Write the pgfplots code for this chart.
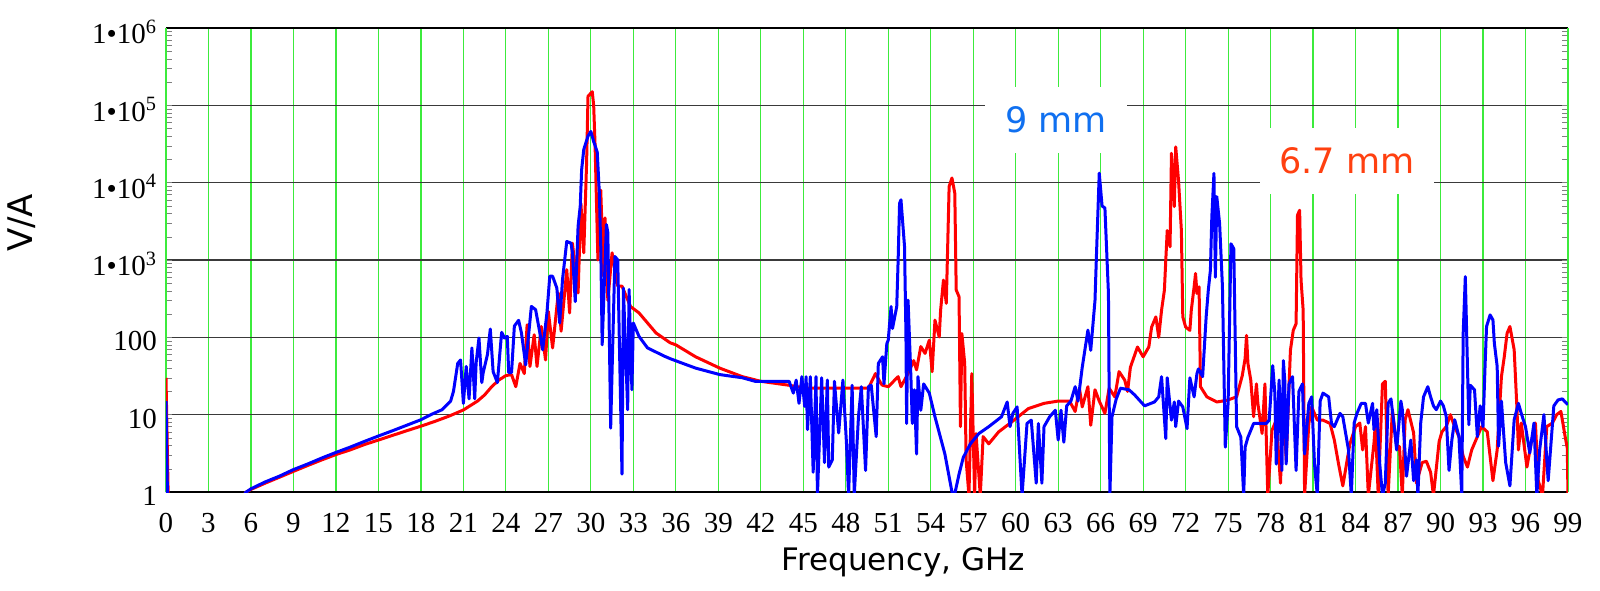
\documentclass[border=0pt]{standalone}
\usepackage{pgfplots}
\pgfplotsset{compat=1.18}
\usepackage{fontspec}
\setmainfont{Liberation Serif}
\newfontfamily\labelfont{DejaVu Sans}
\definecolor{GridGreen}{HTML}{3CEB3C}
\definecolor{GridDark}{HTML}{3A3A3A}
\definecolor{LineRed}{HTML}{FF0000}
\definecolor{LineBlue}{HTML}{0000FF}
\definecolor{NoteBlue}{HTML}{1070F0}
\definecolor{NoteRed}{HTML}{FF4010}
\begin{document}
\begin{tikzpicture}
\begin{axis}[
  scale only axis,
  width=701pt, height=232pt,
  xmin=0, xmax=99, ymin=1, ymax=1e6,
  ymode=log,
  xtick={0,3,...,99},
  ytick={1,10,100,1000,10000,100000,1000000},
  yticklabels={1,10,100,1\textbullet10\textsuperscript{3},1\textbullet10\textsuperscript{4},1\textbullet10\textsuperscript{5},1\textbullet10\textsuperscript{6}},
  major tick length=0pt,
  xmajorgrids, ymajorgrids,
  x grid style={GridGreen, line width=0.6pt},
  y grid style={GridDark, line width=0.6pt},
  separate axis lines,
  x axis line style={black, line width=0.7pt},
  y axis line style={GridGreen, line width=0.8pt},
  ticklabel style={font=\fontsize{14.5}{16}\selectfont},
  /pgf/number format/assume math mode=true,
  xticklabel style={yshift=-7pt},
  yticklabel style={xshift=-1pt, yshift=-2pt},
  xlabel={Frequency, GHz},
  ylabel={V/A},
  xlabel style={font=\labelfont\fontsize{15.5}{18}\selectfont, at={([yshift=-35pt]rel axis cs:0.526,0)}, anchor=center},
  ylabel style={font=\labelfont\fontsize{17}{19}\selectfont, at={([xshift=-72pt]rel axis cs:0,0.58)}, anchor=center},
]
% 6.7 mm
\addplot[LineRed, line width=1.5pt, line join=round] coordinates {
(0,30) (0.15,1) (0.3,0.5) (5.3,0.5) (5.6,0.98) (6,1.08) (7,1.3) (8,1.55) (9,1.85) (10,2.2) (11,2.6) (12,3.05)
(13,3.5) (14,4.1) (15,4.7) (16,5.4) (17,6.2) (18,7.1) (19,8.2) (20,9.6) (21,11.5) (22,15) (22.5,18) (23,23)
(23.5,28) (24,32) (24.4,33) (24.7,23) (25.0,46) (25.3,34) (25.5,145) (25.7,42) (26.0,108) (26.2,42) (26.5,138)
(26.8,51) (27.0,216) (27.3,73) (27.7,375) (27.9,120) (28.3,750) (28.5,207) (28.7,1650) (29.1,375) (29.3,5400)
(29.5,1240) (29.7,18000) (29.8,131000) (30.1,150000) (30.2,100000) (30.3,30000) (30.5,1000) (30.7,8000)
(30.9,617) (31.0,3500) (31.2,300) (31.5,1240) (31.9,460) (32.2,460) (32.8,250) (33.4,207) (34.6,114) (35.6,85)
(36,80) (37.4,56) (39.1,40) (40.7,31) (42,27) (44,24) (45.2,22) (48,22) (49.6,22) (50.1,34) (50.5,25)
(50.6,24) (51.0,23) (51.7,31) (51.9,23) (52.4,34) (52.8,50) (53.0,38) (53.3,76) (53.6,62) (53.9,92) (54.1,36)
(54.3,167) (54.6,101) (54.7,226) (54.9,550) (55.1,275) (55.3,8900) (55.5,11500) (55.7,7300) (55.8,410)
(56.0,335) (56.1,7) (56.2,112) (56.4,46) (56.5,2.6) (56.7,0.9) (56.9,34) (57.1,0.9) (57.2,5.7) (57.5,0.9)
(57.7,5.2) (58.1,4.2) (58.8,6) (59.7,8) (60.9,12) (62.0,14) (63.0,15) (63.8,15) (64.2,11) (64.5,22) (64.7,12.6)
(65.1,23) (65.3,7.3) (65.6,21) (65.9,15) (66.3,10.4) (66.6,22) (67.0,17) (67.3,36) (67.7,28) (67.9,20) (68.1,41)
(68.6,75) (69.0,56) (69.4,75) (69.6,136) (69.9,184) (70.1,100) (70.3,224) (70.5,405) (70.6,1000) (70.7,2400)
(70.9,1480) (71.0,24000) (71.2,4900) (71.3,29000) (71.5,10600) (71.7,2400) (71.8,184) (72.0,136) (72.3,123)
(72.4,224) (72.6,450) (72.7,670) (72.8,370) (72.95,450) (73.05,23) (73.5,17) (74.2,14.6) (74.9,15.3) (75.6,17)
(76.0,32) (76.2,53) (76.3,106) (76.4,46) (76.6,28) (76.8,9.4) (77.0,25) (77.1,14) (77.4,5.7) (77.6,25) (77.8,0.9)
(78.1,6.3) (78.4,8.5) (78.7,1.3) (78.9,17) (79.1,2.6) (79.4,68) (79.6,123) (79.8,150) (79.9,3800) (80.05,4400)
(80.15,550) (80.3,224) (80.4,0.9) (80.7,7.7) (80.9,12.6) (81.3,8.5) (81.7,8.5) (82.2,7.7) (82.5,4.7) (82.8,2.3)
(83.1,1.2) (83.6,4.2) (84.0,7) (84.3,7.8) (84.5,3.5) (84.7,7) (84.9,0.9) (85.3,4.3) (85.4,7.8) (85.6,0.9)
(85.9,25) (86.1,27) (86.3,0.9) (86.6,11.6) (86.9,3.9) (87.1,3.9) (87.3,0.9) (87.5,8.6) (87.7,11.6) (88.1,5.8)
(88.3,1.3) (88.7,2.4) (89.0,2.5) (89.3,1.8) (89.5,0.9) (89.9,4.5) (90.1,6) (90.4,7) (90.7,10) (90.9,7.8)
(91.3,5.2) (91.6,2.9) (91.9,2.1) (92.2,3.5) (92.6,5.2) (92.9,7) (93.3,6) (93.5,2.9) (93.7,1.4) (94.0,3.5)
(94.3,31) (94.5,56) (94.7,113) (94.9,138) (95.2,69) (95.4,11.6) (95.5,3.5) (95.7,7.8) (96.1,2.1) (96.4,4.3)
(96.7,7.8) (96.9,1.4) (97.2,0.9) (97.5,7) (97.9,7.8) (98.2,10) (98.5,11) (98.8,5.2) (98.95,3.7) (99,0.9)
};
% 9 mm
\addplot[LineBlue, line width=1.5pt, line join=round] coordinates {
(0,15) (0.1,1) (0.3,0.5) (5.3,0.5) (5.6,0.98) (6,1.1) (7,1.35) (8,1.6) (9,1.95) (10,2.3) (11,2.75) (12,3.25)
(13,3.8) (14,4.5) (15,5.3) (16,6.2) (17,7.3) (18,8.6) (18.8,10.2) (19.5,11.6) (20.1,15) (20.3,20) (20.6,46)
(20.8,51) (21,14) (21.2,42) (21.4,16) (21.6,73) (21.8,16) (21.9,47) (22.1,98) (22.3,26) (22.4,35) (22.7,60)
(22.9,128) (23.1,36) (23.4,26) (23.7,116) (23.9,98) (24.1,103) (24.2,35) (24.4,35) (24.6,140) (24.9,166)
(25.1,114) (25.4,44) (25.8,251) (26.1,228) (26.4,114) (26.6,69) (26.9,207) (27.1,617) (27.3,617) (27.6,433)
(27.8,153) (28.0,560) (28.3,1740) (28.6,1650) (28.7,1240) (28.9,290) (29.1,2740) (29.25,4950) (29.35,14700)
(29.5,26800) (29.8,40000) (30.0,45900) (30.2,34000) (30.45,25000) (30.6,7400) (30.7,1500) (30.8,80)
(31.1,2870) (31.2,2260) (31.4,6.7) (31.7,1110) (31.9,1000) (32.2,1.7) (32.3,433) (32.6,11.6) (32.7,415)
(32.9,21) (33.0,153) (33.4,103) (34.0,73) (35.2,57) (35.6,53) (36.5,46) (37.4,40) (39.1,33) (40.7,30) (41.6,27)
(44,27) (44.3,19) (44.5,28) (44.7,14) (44.9,31) (45.1,12.8) (45.2,31) (45.3,6.4) (45.5,31) (45.7,1.8) (45.9,31)
(46.0,0.9) (46.3,30) (46.5,2.4) (46.7,28) (46.8,2.1) (47.05,2.6) (47.2,27) (47.5,5.8) (47.8,28) (48.05,4.3)
(48.2,0.9) (48.45,24) (48.6,0.9) (48.9,9.5) (49.1,23) (49.4,1.9) (49.6,23) (49.8,24) (50.15,5.2) (50.3,46)
(50.6,56) (50.7,25) (50.9,83) (51.0,92) (51.2,250) (51.3,130) (51.6,250) (51.7,1000) (51.8,5400) (51.9,6000)
(52.15,1500) (52.25,112) (52.3,7.7) (52.4,303) (52.6,31) (52.7,7.7) (52.85,21) (53.0,3.1) (53.1,31) (53.3,11.4)
(53.5,25) (53.9,19) (54.3,9.4) (55.0,3.1) (55.5,1) (55.7,0.95) (56.0,1.7) (56.3,2.8) (56.8,4.2) (57.4,5.7)
(58.1,7) (59.0,9.4) (59.4,14.6) (59.6,7) (59.8,10.4) (60.1,12.6) (60.45,0.9) (60.8,7.7) (61.1,8.5) (61.45,1.3)
(61.6,7.7) (61.85,1.3) (62.0,7) (62.4,9.4) (62.8,11.4) (63.0,4.7) (63.2,11.4) (63.4,4.4) (63.6,13) (63.9,15)
(64.2,23) (64.4,15) (64.7,41) (65.1,124) (65.3,68) (65.6,300) (65.7,1100) (65.9,13300) (66.1,5000) (66.3,4700)
(66.55,370) (66.65,0.9) (66.8,9.4) (67.1,16) (67.4,22) (68.0,21) (68.4,18) (69.1,13) (69.8,14.6) (70.1,17)
(70.3,31) (70.6,4.9) (70.7,30) (71.0,8.5) (71.2,14.6) (71.3,7) (71.5,15) (71.8,12.6) (72.1,6.6) (72.3,30)
(72.6,17) (72.8,34) (72.9,39) (73.2,31) (73.45,184) (73.6,405) (73.75,740) (73.85,3600) (74.0,13200) (74.1,600)
(74.2,6600) (74.4,2950) (74.6,450) (74.8,3.8) (75.0,14) (75.2,1620) (75.4,1400) (75.6,7) (75.9,5.1) (76.1,0.9)
(76.2,3.8) (76.4,5.1) (76.8,7.7) (77.7,7.7) (77.9,8.5) (78.15,43) (78.3,19) (78.4,2.3) (78.6,28) (78.8,1.9)
(78.9,50) (79.0,28) (79.1,2.3) (79.3,25) (79.55,31) (79.8,1.9) (80.0,20) (80.25,25) (80.4,3.1) (80.7,14)
(80.9,17) (81.1,2.3) (81.3,0.9) (81.5,15) (81.7,19) (82.1,17) (82.3,7.7) (82.5,7) (82.9,10.4) (83.1,9.4)
(83.5,3.5) (83.7,0.9) (83.9,7.8) (84.1,10.4) (84.4,14) (84.7,14) (84.9,7.8) (85.2,14) (85.3,6.4) (85.5,11.6)
(85.7,2.4) (85.9,0.9) (86.1,1.3) (86.3,14) (86.5,16) (86.7,7.8) (86.9,3.5) (87.2,15) (87.3,11.6) (87.6,1.6)
(87.9,4.7) (88.1,1.4) (88.3,2.6) (88.4,0.9) (88.6,7.8) (88.8,17) (89.1,23) (89.3,17) (89.5,13) (89.7,11.6)
(90.0,15) (90.2,13) (90.4,9.5) (90.6,1.9) (90.8,4.7) (91.0,8.6) (91.3,5.2) (91.5,0.9) (91.6,113) (91.75,610)
(92.0,7.4) (92.1,24) (92.4,21) (92.6,5.2) (92.8,13) (93.0,7) (93.15,46) (93.25,138) (93.5,195) (93.7,168)
(93.8,84) (94.0,42) (94.1,3.9) (94.3,15) (94.6,2.4) (94.9,1.2) (95.2,8.6) (95.5,14) (95.7,10.4) (96.0,7)
(96.3,3.2) (96.6,7.8) (96.8,0.9) (97.0,3.5) (97.3,10) (97.6,1.4) (98.0,13) (98.3,15.5) (98.6,16) (98.9,14)
(99.0,13.5)
};
\node[fill=white, inner sep=0pt, minimum width=71pt, minimum height=33pt, text=NoteBlue,
  font=\labelfont\fontsize{17.5}{20}\selectfont] at (axis cs:62.85,65000) {9 mm};
\node[fill=white, inner sep=0pt, minimum width=87pt, minimum height=33pt, text=NoteRed,
  font=\labelfont\fontsize{17.5}{20}\selectfont] at (axis cs:83.4,19200) {6.7 mm};
\end{axis}
\pgfresetboundingbox
\path[use as bounding box] (-83pt,-49pt) rectangle (717pt,246pt);
\end{tikzpicture}
\end{document}
